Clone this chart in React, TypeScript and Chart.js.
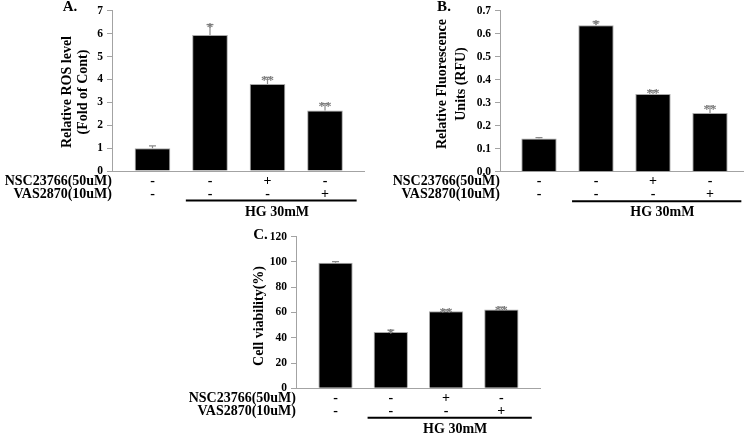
import React, { useEffect, useRef } from 'react';
import { Chart, registerables } from 'chart.js';

Chart.register(...registerables);

// ---------- data ----------
const categories = ['Control', 'HG', 'HG + NSC23766', 'HG + VAS2870'];
const nscMarks = ['-', '-', '+', '-'];
const vasMarks = ['-', '-', '-', '+'];
const nscLabel = 'NSC23766(50uM)';
const vasLabel = 'VAS2870(10uM)';
const hgLabel = 'HG 30mM';

const rosValues = [1.0, 5.95, 3.8, 2.65];
const rosErrors = [0.1, 0.45, 0.3, 0.3];
const rosStars = ['', '*', '**', '**'];
const rosTicks = [0, 1, 2, 3, 4, 5, 6, 7];

const rfuValues = [0.145, 0.637, 0.338, 0.256];
const rfuErrors = [0.003, 0.015, 0.015, 0.03];
const rfuStars = ['', '*', '**', '**'];
const rfuTicks = [0, 0.1, 0.2, 0.3, 0.4, 0.5, 0.6, 0.7];

const viabilityValues = [99.3, 44.6, 61.0, 62.3];
const viabilityErrors = [1.0, 1.5, 1.0, 2.0];
const viabilityStars = ['', '*', '**', '**'];
const viabilityTicks = [0, 20, 40, 60, 80, 100, 120];

// ---------- styling ----------
const FONT = '"Liberation Serif", "Times New Roman", serif';
const AXIS_GRAY = '#a3a3a3';

type Spec = {
  letter: string;
  titleLines: string[];
  values: number[];
  errors: number[];
  stars: string[];
  ticks: number[];
  decimals: number;
  box: { left: number; top: number; width: number; height: number };
  area: { left: number; right: number; top: number; bottom: number };
  xMin: number;
  xMax: number;
  titleX: number[];
  titleY: number;
  letterX: number;
  letterY: number;
};

const panels: Spec[] = [
  {
    letter: 'A.',
    titleLines: ['Relative ROS level', '(Fold of Cont)'],
    values: rosValues,
    errors: rosErrors,
    stars: rosStars,
    ticks: rosTicks,
    decimals: 0,
    box: { left: 0, top: 0, width: 370, height: 220 },
    area: { left: 112, right: 364, top: 9.5, bottom: 171 },
    xMin: -0.704,
    xMax: 3.678,
    titleX: [67.5, 83.5],
    titleY: 92,
    letterX: 70,
    letterY: 7,
  },
  {
    letter: 'B.',
    titleLines: ['Relative Fluorescence', 'Units (RFU)'],
    values: rfuValues,
    errors: rfuErrors,
    stars: rfuStars,
    ticks: rfuTicks,
    decimals: 1,
    box: { left: 370, top: 0, width: 380, height: 220 },
    area: { left: 130, right: 373, top: 8.3, bottom: 171.7 },
    xMin: -0.684,
    xMax: 3.579,
    titleX: [72.8, 91.3],
    titleY: 84,
    letterX: 74,
    letterY: 7,
  },
  {
    letter: 'C.',
    titleLines: ['Cell viability(%)'],
    values: viabilityValues,
    errors: viabilityErrors,
    stars: viabilityStars,
    ticks: viabilityTicks,
    decimals: 0,
    box: { left: 180, top: 220, width: 380, height: 219 },
    area: { left: 116, right: 360, top: 16.7, bottom: 168.3 },
    xMin: -0.715,
    xMax: 3.699,
    titleX: [79],
    titleY: 96,
    letterX: 80.5,
    letterY: 15,
  },
];

function Panel({ spec }: { spec: Spec }) {
  const ref = useRef<HTMLCanvasElement | null>(null);

  useEffect(() => {
    const s = spec;
    const canvas = ref.current;
    if (!canvas) return;

    const annot = {
      id: 'annot',
      afterDatasetsDraw(chart: any) {
        const ctx = chart.ctx as CanvasRenderingContext2D;
        const xs = chart.scales.x;
        const ys = chart.scales.y;
        ctx.save();
        s.values.forEach((v, i) => {
          const px = xs.getPixelForValue(i);
          const y0 = ys.getPixelForValue(v);
          const y1 = ys.getPixelForValue(v + s.errors[i]);
          ctx.strokeStyle = '#8a8a8a';
          ctx.lineWidth = 1.2;
          ctx.beginPath();
          ctx.moveTo(px, y0);
          ctx.lineTo(px, y1);
          ctx.moveTo(px - 3.5, y1);
          ctx.lineTo(px + 3.5, y1);
          ctx.stroke();
          if (s.stars[i]) {
            ctx.fillStyle = '#7a7a7a';
            ctx.font = `bold 13px ${FONT}`;
            ctx.textAlign = 'center';
            ctx.textBaseline = 'alphabetic';
            ctx.fillText(s.stars[i], px, y1 + 6.5);
          }
        });
        ctx.restore();
      },
      afterDraw(chart: any) {
        const ctx = chart.ctx as CanvasRenderingContext2D;
        const xs = chart.scales.x;
        const area = chart.chartArea;
        ctx.save();
        ctx.fillStyle = '#000';

        // panel letter
        ctx.font = `bold 15px ${FONT}`;
        ctx.textAlign = 'center';
        ctx.textBaseline = 'middle';
        ctx.fillText(s.letter, s.letterX, s.letterY);

        // y title (rotated)
        ctx.font = `bold 14px ${FONT}`;
        s.titleLines.forEach((line, k) => {
          ctx.save();
          ctx.translate(s.titleX[k], s.titleY);
          ctx.rotate(-Math.PI / 2);
          ctx.textAlign = 'center';
          ctx.textBaseline = 'middle';
          ctx.fillText(line, 0, 0);
          ctx.restore();
        });

        // treatment rows
        const rowNsc = area.bottom + 10;
        const rowVas = area.bottom + 23;
        ctx.font = `bold 14px ${FONT}`;
        ctx.textBaseline = 'middle';
        ctx.textAlign = 'right';
        ctx.fillText(nscLabel, area.left, rowNsc);
        ctx.fillText(vasLabel, area.left, rowVas);
        ctx.textAlign = 'center';
        categories.forEach((_, i) => {
          const px = xs.getPixelForValue(i);
          ctx.fillText(nscMarks[i], px, rowNsc);
          ctx.fillText(vasMarks[i], px, rowVas);
        });

        // HG bracket line
        const cat = xs.getPixelForValue(1) - xs.getPixelForValue(0);
        const lx0 = xs.getPixelForValue(1) - 0.42 * cat;
        const lx1 = xs.getPixelForValue(3) + 0.55 * cat;
        const ly = area.bottom + 29.5;
        ctx.strokeStyle = '#000';
        ctx.lineWidth = 2;
        ctx.beginPath();
        ctx.moveTo(lx0, ly);
        ctx.lineTo(lx1, ly);
        ctx.stroke();
        ctx.textAlign = 'center';
        ctx.fillText(hgLabel, (lx0 + lx1) / 2 + 0.1 * cat, area.bottom + 41);
        ctx.restore();
      },
    };

    const chart = new Chart(canvas, {
      type: 'bar',
      data: {
        datasets: [
          {
            label: 'value',
            data: s.values.map((v, i) => ({ x: i, y: v })),
            backgroundColor: '#000000',
            borderColor: '#a8a8a8',
            borderWidth: 1,
            barPercentage: 0.62,
            categoryPercentage: 1,
          },
        ],
      },
      options: {
        responsive: false,
        animation: false,
        layout: {
          padding: {
            left: 0,
            top: s.area.top,
            right: s.box.width - s.area.right,
            bottom: 0,
          },
        },
        plugins: {
          legend: { display: false },
          tooltip: { enabled: false },
        },
        scales: {
          x: {
            type: 'linear',
            offset: false,
            bounds: 'data',
            min: s.xMin,
            max: s.xMax,
            ticks: { display: false },
            grid: { display: false, offset: false },
            border: { display: true, color: AXIS_GRAY, width: 1 },
            afterDataLimits(scale: any) {
              scale.min = s.xMin;
              scale.max = s.xMax;
            },
            afterBuildTicks(scale: any) {
              scale.ticks = categories.map((_, i) => ({ value: i }));
            },
            afterFit(scale: any) {
              scale.height = s.box.height - s.area.bottom;
            },
          },
          y: {
            min: s.ticks[0],
            max: s.ticks[s.ticks.length - 1],
            afterBuildTicks(scale: any) {
              scale.ticks = s.ticks.map((v) => ({ value: v }));
            },
            ticks: {
              color: '#000',
              padding: 4,
              font: { family: FONT, size: 11.5, weight: 'bold' },
              callback: (v: any) => Number(v).toFixed(s.decimals),
            },
            grid: {
              display: true,
              drawOnChartArea: false,
              drawTicks: true,
              tickLength: 5,
              color: AXIS_GRAY,
            },
            border: { display: true, color: AXIS_GRAY, width: 1 },
            afterFit(scale: any) {
              scale.width = s.area.left;
            },
          },
        },
      },
      plugins: [annot],
    } as any);

    return () => chart.destroy();
  }, [spec]);

  return (
    <canvas
      ref={ref}
      width={spec.box.width}
      height={spec.box.height}
      style={{
        position: 'absolute',
        left: spec.box.left,
        top: spec.box.top,
        width: spec.box.width,
        height: spec.box.height,
      }}
    />
  );
}

export default function App() {
  return (
    <div
      style={{
        position: 'fixed',
        left: 0,
        top: 0,
        width: 750,
        height: 439,
        background: '#ffffff',
        overflow: 'hidden',
      }}
    >
      {panels.map((p) => (
        <Panel key={p.letter} spec={p} />
      ))}
    </div>
  );
}
